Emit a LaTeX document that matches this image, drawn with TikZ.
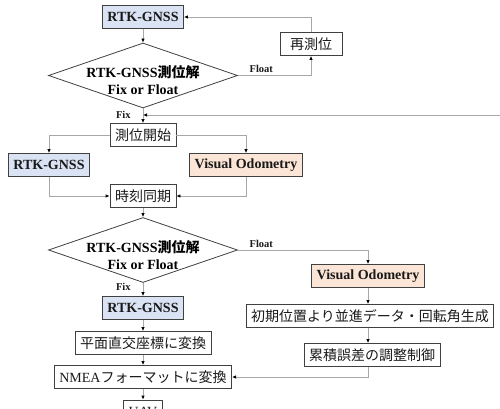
\documentclass[tikz,border=0pt]{standalone}
\usepackage{fontspec}
\setmainfont{Liberation Serif}
\newfontfamily\jp{Noto Sans CJK JP}
\usetikzlibrary{arrows.meta, shapes.geometric}
\definecolor{rtkblue}{HTML}{DAE3F3}
\definecolor{vopeach}{HTML}{FBE5D6}
\definecolor{boxline}{HTML}{404040}
\definecolor{linkgray}{HTML}{A8A8A8}

\tikzset{
  box/.style={draw=boxline, line width=0.8pt, inner xsep=5pt, inner ysep=0pt,
    minimum height=23pt, text=black!90, font=\fontsize{14}{16}\selectfont},
  rtk/.style={box, fill=rtkblue, font=\fontsize{14}{16}\selectfont\bfseries},
  vo/.style={box, fill=vopeach, font=\fontsize{14}{16}\selectfont\bfseries},
  decision/.style={diamond, draw=boxline, line width=0.8pt, minimum width=189pt,
    minimum height=65pt, inner sep=0pt},
  dtext/.style={align=center, inner sep=0pt, font=\fontsize{14}{17}\selectfont\bfseries},
  link/.style={draw=linkgray, line width=0.8pt, -{Latex[length=4pt,width=3.5pt,color=black]}},
  tag/.style={font=\fontsize{10.5}{12}\selectfont\bfseries, text=black!90, inner sep=2pt}
}

\begin{document}
\begin{tikzpicture}[x=1pt, y=-1pt]
  \clip[use as bounding box] (0,0) rectangle (500,409);

  % first fix check
  \node[rtk] (gnss1) at (143,17) {RTK-GNSS};
  \node[decision] (fix1) at (143,75.5) {};
  \node[dtext] at (143,80.5) {RTK-GNSS{\jp 測位解}\\Fix or Float};
  \node[box, minimum width=62pt] (retry) at (311,44) {\jp 再測位};

  % start and sync
  \node[box] (start) at (143,135) {\jp 測位開始};
  \node[rtk] (gnss2) at (49,165) {RTK-GNSS};
  \node[vo] (vo1) at (246,165) {Visual Odometry};
  \node[box] (sync) at (143,196) {\jp 時刻同期};

  % second fix check
  \node[decision] (fix2) at (143,250) {};
  \node[dtext] at (143,255) {RTK-GNSS{\jp 測位解}\\Fix or Float};
  \node[rtk] (gnss3) at (143,308) {RTK-GNSS};
  \node[box] (plane) at (143,343) {\jp 平面直交座標に変換};
  \node[box] (nmea) at (143,377) {NMEA{\jp フォーマットに変換}};
  \node[box] (uav) at (143,411.5) {UAV};

  % float branch
  \node[vo] (vo2) at (368,276) {Visual Odometry};
  \node[box] (init) at (370,316) {\jp 初期位置より並進データ・回転角生成};
  \node[box] (drift) at (372,355) {\jp 累積誤差の調整制御};

  \coordinate (loopin) at (500,115);
  \coordinate (fixjoin) at (143,115);

  \draw[link] (gnss1) -- (fix1);
  \draw[link] (fix1.east) -| node[tag, pos=0.16, above] {Float} (retry.south);
  \draw[link] (retry.north) |- (gnss1.east);
  \draw[link] (fix1.south) -- node[tag, pos=0.45, left=10pt] {Fix} (start.north);
  \draw[link] (loopin) -- (fixjoin);
  \draw[link] (start.west) -| (gnss2.north);
  \draw[link] (start.east) -| (vo1.north);
  \draw[link] (gnss2.south) |- (sync.west);
  \draw[link] (vo1.south) |- (sync.east);
  \draw[link] (sync) -- (fix2);
  \draw[link] (fix2.east) -| node[tag, pos=0.09, above] {Float} (vo2.north);
  \draw[link] (fix2.south) -- node[tag, pos=0.3, left=10pt] {Fix} (gnss3.north);
  \draw[link] (gnss3) -- (plane);
  \draw[link] (plane) -- (nmea);
  \draw[link] (nmea) -- (uav);
  \draw[link] (vo2.south) -- (vo2.south |- init.north);
  \draw[link] (init.south -| vo2) -- (drift.north -| vo2);
  \draw[link] (drift.south -| vo2) |- (nmea.east);
\end{tikzpicture}
\end{document}
